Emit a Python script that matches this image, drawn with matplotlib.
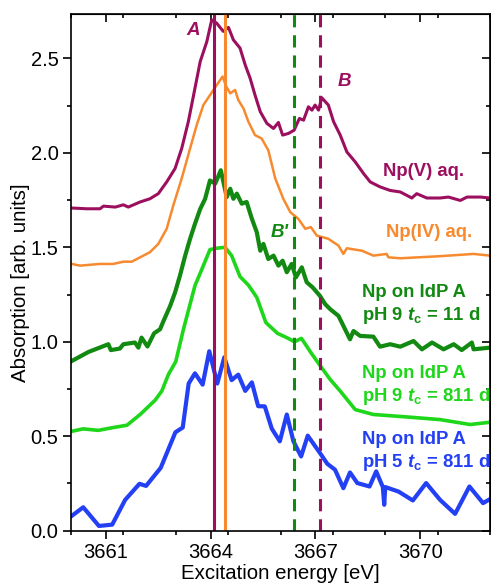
import numpy as np
import matplotlib.pyplot as plt
from matplotlib.ticker import MultipleLocator

plt.rcParams['font.family'] = ['Liberation Sans', 'DejaVu Sans']
plt.rcParams['mathtext.fontset'] = 'custom'
plt.rcParams['mathtext.rm'] = 'Liberation Sans'
plt.rcParams['mathtext.bf'] = 'Liberation Sans:bold'
plt.rcParams['mathtext.bfit'] = 'Liberation Sans:bold:italic'

# spectra (energy in eV, absorption in arb. units)
npv_x = [3660.02, 3660.45, 3660.83, 3660.93, 3661.27, 3661.50, 3661.64, 3661.98, 3662.26,
         3662.50, 3662.74, 3662.98, 3663.17, 3663.36, 3663.55, 3663.70, 3663.89, 3664.03,
         3664.17, 3664.36, 3664.51, 3664.65, 3664.84, 3664.99, 3665.13, 3665.27, 3665.42,
         3665.61, 3665.80, 3665.94, 3666.06, 3666.23, 3666.39, 3666.54, 3666.66, 3666.80,
         3666.90, 3666.99, 3667.09, 3667.18, 3667.37, 3667.52, 3667.71, 3667.90, 3668.14,
         3668.38, 3668.57, 3668.85, 3669.14, 3669.43, 3669.76, 3669.90, 3670.19, 3670.57,
         3670.81, 3671.15, 3671.34, 3671.72, 3672.0]
npv_y = [1.708, 1.704, 1.704, 1.718, 1.713, 1.725, 1.713, 1.740, 1.757,
         1.784, 1.846, 1.917, 2.023, 2.165, 2.342, 2.483, 2.589, 2.704,
         2.687, 2.643, 2.664, 2.598, 2.555, 2.465, 2.395, 2.306, 2.218,
         2.156, 2.129, 2.161, 2.094, 2.103, 2.120, 2.182, 2.173, 2.244,
         2.226, 2.253, 2.226, 2.292, 2.253, 2.165, 2.094, 2.005, 1.952,
         1.890, 1.846, 1.820, 1.801, 1.793, 1.761, 1.784, 1.761, 1.761,
         1.766, 1.748, 1.766, 1.766, 1.761]

npiv_x = [3660.02, 3660.26, 3660.83, 3661.21, 3661.50, 3661.74, 3661.98, 3662.26, 3662.50,
          3662.74, 3662.93, 3663.17, 3663.41, 3663.60, 3663.79, 3664.08, 3664.34, 3664.45,
          3664.56, 3664.70, 3664.79, 3664.94, 3665.08, 3665.27, 3665.46, 3665.65, 3665.85,
          3666.08, 3666.28, 3666.51, 3666.71, 3666.87, 3667.04, 3667.37, 3667.66, 3667.80,
          3667.90, 3668.33, 3668.66, 3669.04, 3669.09, 3669.43, 3670.57, 3671.53, 3672.0]
npiv_y = [1.412, 1.403, 1.412, 1.412, 1.424, 1.424, 1.447, 1.474, 1.518,
          1.598, 1.722, 1.864, 2.023, 2.147, 2.253, 2.333, 2.404, 2.350,
          2.315, 2.333, 2.280, 2.235, 2.165, 2.094, 2.076, 2.014, 1.864,
          1.757, 1.686, 1.651, 1.598, 1.607, 1.562, 1.545, 1.509, 1.465,
          1.495, 1.482, 1.456, 1.465, 1.447, 1.442, 1.453, 1.465, 1.456]

ph9_11_x = [3660.02, 3660.50, 3661.07, 3661.14, 3661.40, 3661.50, 3661.83, 3661.93, 3662.02,
            3662.19, 3662.38, 3662.55, 3662.64, 3662.84, 3662.98, 3663.12, 3663.27, 3663.41,
            3663.55, 3663.70, 3663.84, 3663.98, 3664.13, 3664.29, 3664.46, 3664.56, 3664.65,
            3664.75, 3664.89, 3665.03, 3665.18, 3665.32, 3665.42, 3665.51, 3665.65, 3665.80,
            3665.94, 3666.06, 3666.18, 3666.32, 3666.44, 3666.61, 3666.75, 3666.92, 3667.13,
            3667.28, 3667.42, 3667.66, 3667.99, 3668.09, 3668.28, 3668.66, 3668.85, 3669.14,
            3669.43, 3669.81, 3670.05, 3670.34, 3670.67, 3670.96, 3671.19, 3671.48, 3671.53,
            3672.0]
ph9_11_y = [0.898, 0.946, 0.987, 0.956, 0.964, 0.987, 0.996, 0.969, 1.022,
            0.975, 1.045, 1.066, 1.106, 1.190, 1.261, 1.350, 1.456, 1.545,
            1.624, 1.703, 1.756, 1.854, 1.837, 1.908, 1.766, 1.810, 1.757,
            1.784, 1.731, 1.740, 1.651, 1.580, 1.482, 1.518, 1.438, 1.456,
            1.403, 1.429, 1.368, 1.412, 1.341, 1.394, 1.315, 1.288, 1.243,
            1.199, 1.173, 1.137, 1.013, 1.057, 1.031, 1.027, 0.974, 0.987,
            0.974, 1.004, 0.960, 0.996, 0.960, 0.987, 0.956, 0.996, 0.960,
            0.969]

ph9_811_x = [3660.02, 3660.35, 3660.78, 3661.21, 3661.60, 3661.98, 3662.41, 3662.60, 3662.79,
             3663.00, 3663.22, 3663.55, 3663.75, 3663.98, 3664.17, 3664.41, 3664.60, 3664.84,
             3665.08, 3665.32, 3665.58, 3665.91, 3666.20, 3666.40, 3666.60, 3666.88, 3667.13,
             3667.42, 3667.71, 3668.14, 3668.66, 3669.62, 3670.57, 3671.43, 3672.0]
ph9_811_y = [0.526, 0.539, 0.531, 0.546, 0.558, 0.615, 0.691, 0.739, 0.827,
             0.895, 1.066, 1.297, 1.385, 1.488, 1.495, 1.500, 1.456, 1.345,
             1.300, 1.235, 1.102, 1.045, 1.020, 1.000, 1.018, 0.940, 0.875,
             0.801, 0.739, 0.641, 0.615, 0.602, 0.588, 0.562, 0.574]

ph5_x = [3660.02, 3660.35, 3660.80, 3661.18, 3661.55, 3661.96, 3662.15, 3662.57, 3662.99,
         3663.20, 3663.37, 3663.55, 3663.77, 3663.96, 3664.19, 3664.39, 3664.60, 3664.79,
         3664.99, 3665.18, 3665.36, 3665.55, 3665.75, 3665.98, 3666.18, 3666.37, 3666.59,
         3666.78, 3667.13, 3667.34, 3667.56, 3667.80, 3667.99, 3668.20, 3668.55, 3668.74,
         3668.93, 3668.97, 3669.00, 3669.38, 3669.79, 3670.17, 3670.57, 3671.00, 3671.41,
         3671.80, 3672.0]
ph5_y = [0.078, 0.124, 0.025, 0.032, 0.163, 0.248, 0.237, 0.333, 0.521,
         0.546, 0.779, 0.833, 0.773, 0.950, 0.779, 0.918, 0.797, 0.826,
         0.740, 0.785, 0.659, 0.658, 0.540, 0.473, 0.615, 0.473, 0.393,
         0.503, 0.411, 0.354, 0.323, 0.225, 0.308, 0.252, 0.234, 0.314,
         0.231, 0.137, 0.231, 0.207, 0.160, 0.252, 0.163, 0.089, 0.234,
         0.146, 0.167]

# marker energies for features A, B, B'
line_a_v = 3664.1
line_a_iv = 3664.41
line_b_prime = 3666.4
line_b = 3667.14

purple = '#9c0f5f'
orange = '#f78a2e'
dgreen = '#128a12'
lgreen = '#1ed61a'
blue = '#2440f5'

fig = plt.figure(figsize=(4.91, 5.86), dpi=100)
ax = fig.add_axes([0.1446, 0.0944, 0.8534, 0.8817])

ax.plot(npv_x, npv_y, color=purple, lw=2.2)
ax.plot(npiv_x, npiv_y, color=orange, lw=1.8)
ax.plot(ph9_11_x, ph9_11_y, color=dgreen, lw=3.0)
ax.plot(ph9_811_x, ph9_811_y, color=lgreen, lw=2.6)
ax.plot(ph5_x, ph5_y, color=blue, lw=3.0)

ax.axvline(line_a_v, color=purple, lw=2.2)
ax.axvline(line_a_iv, color=orange, lw=2.2)
ax.axvline(line_b_prime, color=dgreen, lw=2.2, dashes=(4, 2.6))
ax.axvline(line_b, color=purple, lw=2.2, dashes=(4, 2.6))

lbl = dict(fontsize=13.5, fontweight='bold', style='italic', ha='center', va='center')
ax.text(3663.5, 2.65, 'A', color=purple, **lbl)
ax.text(3667.82, 2.38, 'B', color=purple, **lbl)
ax.text(3665.99, 1.58, "B'", color=dgreen, **lbl)

bold = dict(fontsize=13.3, fontweight='bold', va='center')
tc = '$\\mathbfit{t}_\\mathbf{c}$'
ax.text(3670.1, 1.90, 'Np(V) aq.', color=purple, ha='center', **bold)
ax.text(3670.25, 1.58, 'Np(IV) aq.', color=orange, ha='center', **bold)
ax.text(3668.33, 1.261, 'Np on IdP A', color=dgreen, ha='left', **bold)
ax.text(3668.33, 1.137, 'pH 9 ' + tc + ' = 11 d', color=dgreen, ha='left', **bold)
ax.text(3668.33, 0.833, 'Np on IdP A', color=lgreen, ha='left', **bold)
ax.text(3668.33, 0.712, 'pH 9 ' + tc + ' = 811 d', color=lgreen, ha='left', **bold)
ax.text(3668.33, 0.482, 'Np on IdP A', color=blue, ha='left', **bold)
ax.text(3668.33, 0.361, 'pH 5 ' + tc + ' = 811 d', color=blue, ha='left', **bold)

ax.set_xlim(3660, 3672)
ax.set_ylim(0, 2.735)
ax.set_xticks([3661, 3664, 3667, 3670])
ax.set_yticks([0.0, 0.5, 1.0, 1.5, 2.0, 2.5])
ax.xaxis.set_minor_locator(MultipleLocator(1.5))
ax.yaxis.set_minor_locator(MultipleLocator(0.25))
ax.tick_params(which='both', direction='out', width=1.2, labelsize=14.5, top=False, right=False)
ax.tick_params(which='major', length=5.5)
ax.tick_params(which='minor', length=3)

# mirrored inward ticks on top and right
ax2 = ax.secondary_xaxis('top')
ax2.set_xticks([3661, 3664, 3667, 3670])
ax2.xaxis.set_minor_locator(MultipleLocator(1.5))
ax2.tick_params(which='both', direction='in', width=1.2, labeltop=False)
ax2.tick_params(which='major', length=5.5)
ax2.tick_params(which='minor', length=3)
ax3 = ax.secondary_yaxis('right')
ax3.set_yticks([0.0, 0.5, 1.0, 1.5, 2.0, 2.5])
ax3.yaxis.set_minor_locator(MultipleLocator(0.25))
ax3.tick_params(which='both', direction='in', width=1.2, labelright=False)
ax3.tick_params(which='major', length=5.5)
ax3.tick_params(which='minor', length=3)

for sp in ax.spines.values():
    sp.set_linewidth(1.2)

ax.set_xlabel('Excitation energy [eV]', fontsize=14.7, labelpad=1)
ax.set_ylabel('Absorption [arb. units]', fontsize=14.7)
ax.yaxis.set_label_coords(-0.098, 0.48)

fig.savefig('out.png', dpi=100)
